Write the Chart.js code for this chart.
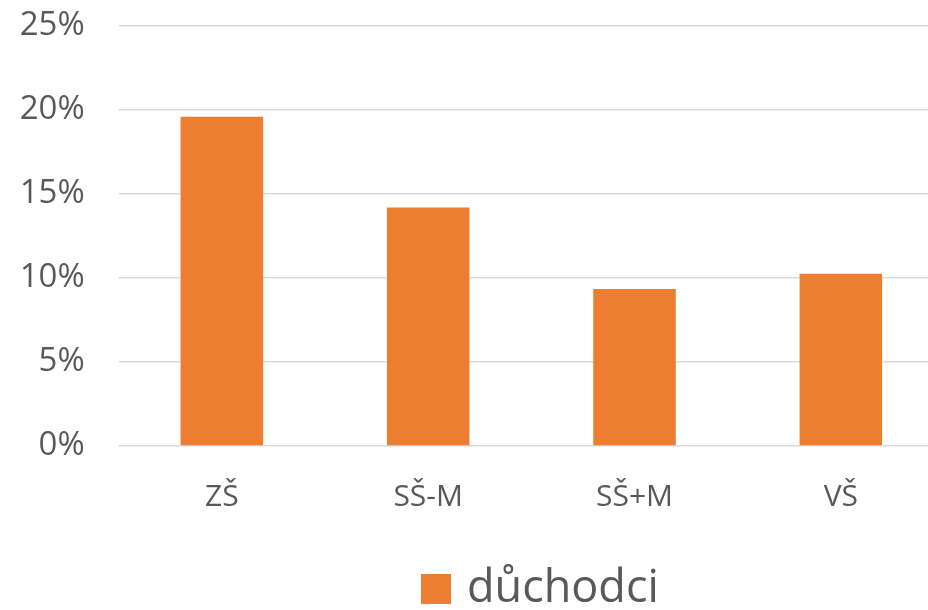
<!DOCTYPE html>
<html>
<head>
<meta charset="utf-8">
<script src="https://cdn.jsdelivr.net/npm/chart.js@4.4.1/dist/chart.umd.min.js"></script>
<style>
  html, body { margin: 0; padding: 0; background: #ffffff; overflow: hidden; }
  #wrap { position: relative; width: 945px; height: 610px; }
</style>
</head>
<body>
<div id="wrap"><canvas id="chart"></canvas></div>
<script>
// Share of pensioners by highest completed education
const categories = ['ZŠ', 'SŠ-M', 'SŠ+M', 'VŠ'];
const seriesName = 'důchodci';
const seriesValues = [19.6, 14.2, 9.35, 10.25];
const yTicks = [0, 5, 10, 15, 20, 25];

const FONT = "'Open Sans', 'DejaVu Sans', sans-serif";
const TEXT = '#595959';
const BAR = '#ED7D31';

// Legend drawn below the plot: square swatch followed by the series name
const bottomLegend = {
  id: 'bottomLegend',
  afterDraw(chart, args, opts) {
    const ctx = chart.ctx;
    ctx.save();
    chart.data.datasets.forEach((ds) => {
      const x = opts.x, y = opts.y;
      ctx.fillStyle = ds.backgroundColor;
      ctx.fillRect(x, y - opts.box / 2, opts.box, opts.box);
      ctx.fillStyle = TEXT;
      ctx.font = opts.size + 'px ' + FONT;
      ctx.textBaseline = 'middle';
      ctx.textAlign = 'left';
      ctx.fillText(ds.label, x + opts.box + opts.gap, y);
    });
    ctx.restore();
  }
};

new Chart(document.getElementById('chart'), {
  type: 'bar',
  data: {
    labels: categories,
    datasets: [{
      label: seriesName,
      data: seriesValues,
      backgroundColor: BAR,
      categoryPercentage: 1.0,
      barPercentage: 0.4
    }]
  },
  options: {
    responsive: true,
    maintainAspectRatio: false,
    animation: false,
    layout: { padding: { top: 26, right: 1, left: 0, bottom: 0 } },
    plugins: {
      legend: { display: false },
      tooltip: { enabled: false },
      bottomLegend: { x: 421, y: 589, box: 30, gap: 16, size: 45 }
    },
    scales: {
      x: {
        grid: { display: false },
        border: { display: false },
        ticks: { color: TEXT, font: { family: FONT, size: 30 }, padding: 25 },
        afterFit(scale) { scale.height = 164; }
      },
      y: {
        min: 0,
        max: 25,
        afterBuildTicks(scale) { scale.ticks = yTicks.map(v => ({ value: v })); },
        grid: { color: '#D9D9D9', lineWidth: 1.5, drawTicks: false },
        border: { display: false },
        ticks: {
          color: TEXT,
          font: { family: FONT, size: 33 },
          padding: 34,
          callback: (v) => v + '%'
        },
        afterFit(scale) {
          scale.width = 118.7;
          scale.paddingTop = 0;
          scale.paddingBottom = 0;
        }
      }
    }
  },
  plugins: [bottomLegend]
});
</script>
</body>
</html>
